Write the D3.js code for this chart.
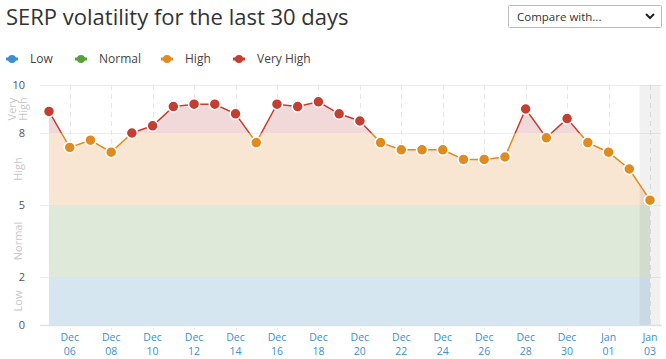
<!DOCTYPE html>
<html><head><meta charset="utf-8">
<script src="https://cdn.jsdelivr.net/npm/d3@7"></script>
<style>
body{margin:0;background:#fff;font-family:"Open Sans",sans-serif;}
svg{display:block}
</style></head>
<body><svg id="c" width="666" height="359"></svg>
<script>
const dates = ["2022-12-05","2022-12-06","2022-12-07","2022-12-08","2022-12-09","2022-12-10","2022-12-11","2022-12-12","2022-12-13","2022-12-14","2022-12-15","2022-12-16","2022-12-17","2022-12-18","2022-12-19","2022-12-20","2022-12-21","2022-12-22","2022-12-23","2022-12-24","2022-12-25","2022-12-26","2022-12-27","2022-12-28","2022-12-29","2022-12-30","2022-12-31","2023-01-01","2023-01-02","2023-01-03"];
const values = [8.9,7.4,7.7,7.2,8.0,8.3,9.1,9.2,9.2,8.8,7.6,9.2,9.1,9.3,8.8,8.5,7.6,7.3,7.3,7.3,6.9,6.9,7.0,9.0,7.8,8.6,7.6,7.2,6.5,5.2];
const tickDates = ["2022-12-06","2022-12-08","2022-12-10","2022-12-12","2022-12-14","2022-12-16","2022-12-18","2022-12-20","2022-12-22","2022-12-24","2022-12-26","2022-12-28","2022-12-30","2023-01-01","2023-01-03"];
const yTicks = [0,2,5,8,10];
const levels = ["Low","Normal","High","Very High"];
const levelBounds = [[0,2],[2,5],[5,8],[8,10]];
const levelColors = ["#3b8fd0","#5a9f3e","#e08b1f","#c23f31"];
const levelFills = ["#d6e6f1","#dee9d9","#f8e6d2","#f1d9d9"];

const parse = d3.timeParse("%Y-%m-%d");
const data = dates.map((d,i)=>({date:parse(d), v:values[i]}));
const svg = d3.select("#c");

// title
svg.append("text").attr("x",6).attr("y",25).attr("font-size",22).attr("fill","#333")
  .attr("font-family","'Open Sans',sans-serif").text("SERP volatility for the last 30 days");

// dropdown
const dd = svg.append("g");
dd.append("rect").attr("x",508.5).attr("y",5.5).attr("width",153).attr("height",22).attr("fill","#fff").attr("stroke","#bbb").attr("rx",1);
dd.append("text").attr("x",517).attr("y",21).attr("font-size",11.5).attr("fill","#333").text("Compare with...");
dd.append("path").attr("d","M646,14 L650,18 L654,14").attr("fill","none").attr("stroke","#222").attr("stroke-width",2);

// legend
const legX = [12,81,167,239];
levels.forEach((l,i)=>{
  const g = svg.append("g").attr("transform",`translate(${legX[i]},59)`);
  g.append("line").attr("x1",-6).attr("x2",6).attr("stroke",levelColors[i]).attr("stroke-width",3);
  g.append("circle").attr("r",4).attr("fill",levelColors[i]);
  g.append("text").attr("x",18).attr("y",4).attr("font-size",12).attr("fill","#444").text(l);
});

const x = d3.scaleTime().domain([data[0].date, data[data.length-1].date]).range([49,650]);
const y = d3.scaleLinear().domain([0,10]).range([325,85]);
const left = 40, right = 662;

// horizontal grid
svg.append("g").selectAll("line").data(yTicks).join("line")
  .attr("x1",left).attr("x2",right).attr("y1",d=>y(d)+0.5).attr("y2",d=>y(d)+0.5)
  .attr("stroke",d=>d===0?"#dde0ea":"#eeeeee").attr("stroke-width",d=>d===0?1.5:1);

// vertical dashed grid
const tds = tickDates.map(parse);
svg.append("g").selectAll("line").data(tds).join("line")
  .attr("x1",d=>Math.round(x(d))+0.5).attr("x2",d=>Math.round(x(d))+0.5).attr("y1",85).attr("y2",330)
  .attr("stroke","#e6e6e6").attr("stroke-dasharray","5,4");

// area clip
const area = d3.area().x(d=>x(d.date)).y0(y(0)).y1(d=>y(d.v));
const defs = svg.append("defs");
defs.append("clipPath").attr("id","areaClip").append("path").attr("d",area(data));
levelBounds.forEach((b,i)=>{
  defs.append("clipPath").attr("id","band"+i).append("rect")
    .attr("x",0).attr("width",666).attr("y",i===3?0:y(b[1])).attr("height",i===3?y(b[0]):(i===0?359-y(b[1]):y(b[0])-y(b[1])));
});
const ag = svg.append("g").attr("clip-path","url(#areaClip)");
levelBounds.forEach((b,i)=>{
  ag.append("rect").attr("x",0).attr("width",666).attr("y",y(b[1])).attr("height",y(b[0])-y(b[1])).attr("fill",levelFills[i]);
});

// last-day highlight
const dayW = x(data[1].date)-x(data[0].date);
svg.append("rect").attr("x",x(data[data.length-1].date)-dayW/2).attr("y",85).attr("width",dayW).attr("height",240)
  .attr("fill","rgba(0,0,0,0.055)");

// line colored by band
const line = d3.line().x(d=>x(d.date)).y(d=>y(d.v));
levelBounds.forEach((b,i)=>{
  svg.append("path").attr("d",line(data)).attr("fill","none").attr("stroke",levelColors[i])
    .attr("stroke-width",1.5).attr("clip-path",`url(#band${i})`);
});

// points
const lvl = v => v>=8?3:v>=5?2:v>=2?1:0;
svg.append("g").selectAll("circle").data(data).join("circle")
  .attr("cx",d=>x(d.date)).attr("cy",d=>y(d.v)).attr("r",5.5)
  .attr("fill",d=>levelColors[lvl(d.v)]).attr("stroke","#fff").attr("stroke-width",1.5);

// y axis labels
svg.append("g").selectAll("text").data(yTicks).join("text")
  .attr("x",25).attr("y",d=>y(d)+4).attr("text-anchor","end").attr("font-size",11).attr("fill","#555").text(d=>d);

// band labels rotated
levelBounds.forEach((b,i)=>{
  const cy = (y(b[0])+y(b[1]))/2;
  const t = svg.append("text").attr("transform",`translate(18,${cy}) rotate(-90)`).attr("text-anchor","middle")
    .attr("font-size",11).attr("fill","#c8c8c8");
  if(i===3){
    t.append("tspan").attr("x",0).attr("dy",-2).text("Very");
    t.append("tspan").attr("x",0).attr("dy",11).text("High");
  } else {
    t.attr("dy",4).text(levels[i]);
  }
});

// x axis labels (two separate lines)
const fm = d3.timeFormat("%b"), fd = d3.timeFormat("%d");
const xg = svg.append("g").attr("font-size",10.5).attr("fill","#3b8fd0").attr("text-anchor","middle");
xg.selectAll("text.m").data(tds).join("text").attr("class","m").attr("x",d=>x(d)).attr("y",341).text(d=>fm(d));
xg.selectAll("text.d").data(tds).join("text").attr("class","d").attr("x",d=>x(d)).attr("y",355).text(d=>fd(d));
</script></body></html>
